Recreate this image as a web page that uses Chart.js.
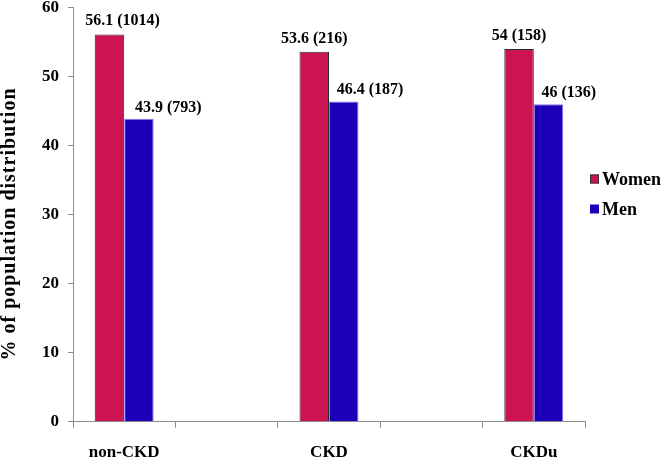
<!DOCTYPE html>
<html>
<head>
<meta charset="utf-8">
<script src="https://cdn.jsdelivr.net/npm/chart.js@4.4.1/dist/chart.umd.min.js"></script>
<style>
  html, body { margin: 0; padding: 0; background: #ffffff; }
  #wrap { width: 666px; height: 457px; position: relative; }
</style>
</head>
<body>
<div id="wrap"><canvas id="c" width="666" height="457"></canvas></div>
<script>
const categories = ['non-CKD', '', 'CKD', '', 'CKDu'];
const seriesNames = ['Women', 'Men'];
const womenPct = [56.1, null, 53.6, null, 54];
const menPct = [43.9, null, 46.4, null, 46];
const womenCount = [1014, null, 216, null, 158];
const menCount = [793, null, 187, null, 136];
const yTicks = [0, 10, 20, 30, 40, 50, 60];
const yTitle = '% of population distribution';

const FONT = "'Liberation Serif', 'Times New Roman', serif";
const AXIS = '#8c8c8c';

const valueLabels = {
  id: 'valueLabels',
  afterDatasetsDraw(chart, args, opts) {
    const ctx = chart.ctx;
    ctx.save();
    ctx.font = 'bold 16px ' + FONT;
    ctx.fillStyle = '#000';
    ctx.textBaseline = 'alphabetic';
    chart.data.datasets.forEach((ds, di) => {
      const meta = chart.getDatasetMeta(di);
      meta.data.forEach((bar, i) => {
        const v = ds.data[i];
        if (v === null || v === undefined) return;
        const txt = v + ' (' + ds.counts[i] + ')';
        const st = opts.styles[di];
        const dx = st.dx[i] || 0;
        ctx.textAlign = st.align;
        ctx.fillText(txt, bar.x + dx, bar.y - st.gap);
      });
    });
    ctx.restore();
  }
};

const sideLegend = {
  id: 'sideLegend',
  afterDraw(chart, args, opts) {
    const ctx = chart.ctx;
    ctx.save();
    ctx.font = 'bold 18px ' + FONT;
    ctx.textBaseline = 'middle';
    ctx.textAlign = 'left';
    chart.data.datasets.forEach((ds, di) => {
      const y = opts.y + di * opts.step;
      ctx.fillStyle = ds.backgroundColor;
      ctx.fillRect(opts.x, y - 4.5, 9, 9);
      if (di === 0) {
        ctx.strokeStyle = '#333';
        ctx.lineWidth = 1;
        ctx.strokeRect(opts.x + 0.5, y - 4, 8, 8);
      }
      ctx.fillStyle = '#000';
      ctx.fillText(ds.label, opts.x + 12, y + 1);
    });
    ctx.restore();
  }
};

const axisTitle = {
  id: 'axisTitle',
  afterDraw(chart, args, opts) {
    const ctx = chart.ctx;
    ctx.save();
    ctx.font = 'bold 20px ' + FONT;
    if ('letterSpacing' in ctx) ctx.letterSpacing = opts.spacing + 'px';
    ctx.fillStyle = '#000';
    ctx.textAlign = 'center';
    ctx.textBaseline = 'middle';
    ctx.translate(opts.x, opts.y);
    ctx.rotate(-Math.PI / 2);
    ctx.fillText(opts.text, 0, 0);
    ctx.restore();
  }
};

new Chart(document.getElementById('c'), {
  type: 'bar',
  data: {
    labels: categories,
    datasets: [
      { label: seriesNames[0], data: womenPct, counts: womenCount,
        backgroundColor: '#CC1454', borderColor: '#2a2a2a', borderWidth: 1, borderSkipped: 'bottom' },
      { label: seriesNames[1], data: menPct, counts: menCount,
        backgroundColor: '#1C00B8', borderColor: '#8a7cf5', borderWidth: 1, borderSkipped: 'bottom' }
    ]
  },
  options: {
    responsive: false,
    animation: false,
    devicePixelRatio: 1,
    layout: { padding: { left: 0, right: 81, top: 0, bottom: 0 } },
    datasets: { bar: { categoryPercentage: 0.576, barPercentage: 1.0 } },
    plugins: {
      legend: { display: false },
      tooltip: { enabled: false },
      valueLabels: {
        styles: [
          { align: 'center', gap: 9, dx: [13, 0, 0, 0, 0] },
          { align: 'left', gap: 7, dx: [-4, 0, -7, 0, -7] }
        ]
      },
      sideLegend: { x: 590, y: 179, step: 30 },
      axisTitle: { text: yTitle, x: 10, y: 224, spacing: 1 }
    },
    scales: {
      x: {
        grid: { display: true, drawOnChartArea: false, drawTicks: true, tickLength: 6, color: AXIS, offset: true },
        border: { display: true, color: AXIS, width: 1 },
        ticks: { color: '#000', font: { family: FONT, size: 17, weight: 'bold' }, padding: 15, maxRotation: 0, autoSkip: false },
        afterFit(s) { s.height = 35.3; }
      },
      y: {
        min: 0, max: 60,
        afterBuildTicks(s) { s.ticks = yTicks.map(v => ({ value: v })); },
        grid: { display: true, drawOnChartArea: false, drawTicks: true, tickLength: 5, color: AXIS },
        border: { display: true, color: AXIS, width: 1 },
        ticks: { color: '#000', font: { family: FONT, size: 17, weight: 'bold' }, padding: 9 },
        title: { display: false, text: yTitle },
        afterFit(s) { s.width = 73; s.paddingTop = 7.5; }
      }
    }
  },
  plugins: [valueLabels, sideLegend, axisTitle]
});
</script>
</body>
</html>
